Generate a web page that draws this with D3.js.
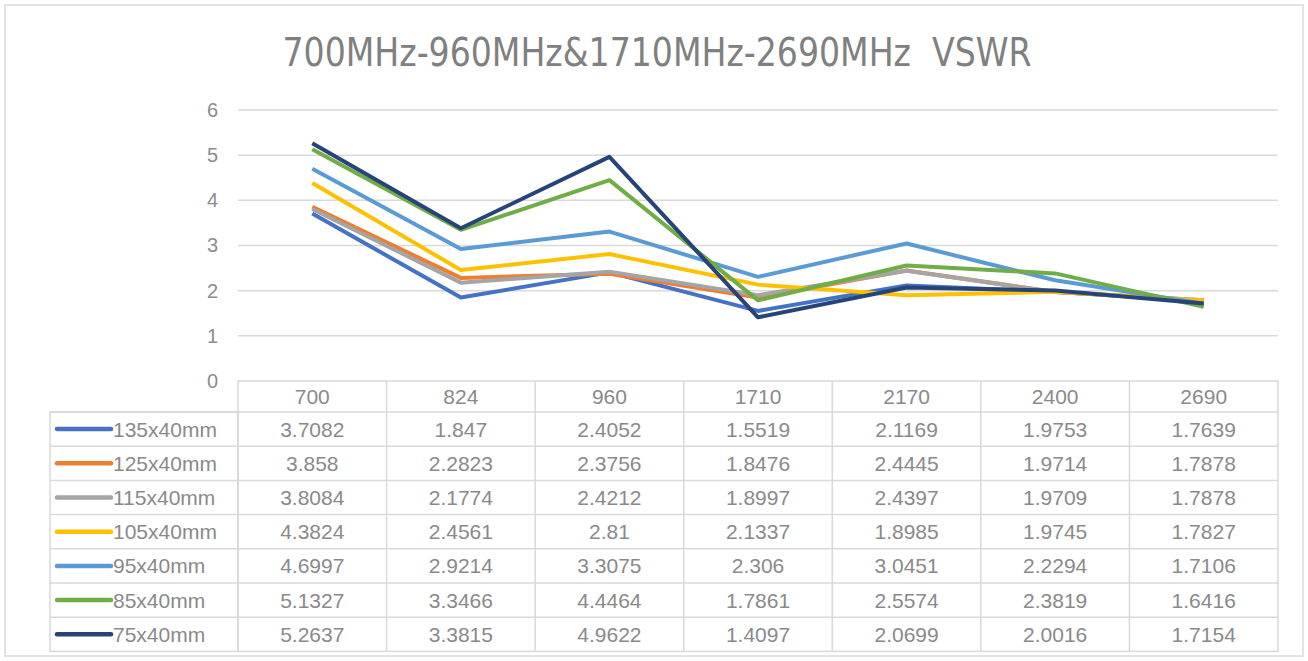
<!DOCTYPE html>
<html>
<head>
<meta charset="utf-8">
<script src="https://cdn.jsdelivr.net/npm/d3@7"></script>
<style>
  body { margin: 0; background: #fff; }
  text { font-family: "Liberation Sans", Arial, sans-serif; }
</style>
</head>
<body>
<div id="chart"></div>
<script>
// Data
var categories = ['700', '824', '960', '1710', '2170', '2400', '2690'];
var seriesNames = ['135x40mm', '125x40mm', '115x40mm', '105x40mm', '95x40mm', '85x40mm', '75x40mm'];
var s135 = [3.7082, 1.847, 2.4052, 1.5519, 2.1169, 1.9753, 1.7639];
var s125 = [3.858, 2.2823, 2.3756, 1.8476, 2.4445, 1.9714, 1.7878];
var s115 = [3.8084, 2.1774, 2.4212, 1.8997, 2.4397, 1.9709, 1.7878];
var s105 = [4.3824, 2.4561, 2.81, 2.1337, 1.8985, 1.9745, 1.7827];
var s95 = [4.6997, 2.9214, 3.3075, 2.306, 3.0451, 2.2294, 1.7106];
var s85 = [5.1327, 3.3466, 4.4464, 1.7861, 2.5574, 2.3819, 1.6416];
var s75 = [5.2637, 3.3815, 4.9622, 1.4097, 2.0699, 2.0016, 1.7154];
var yTicks = [0, 1, 2, 3, 4, 5, 6];
var colors = ['#4472C4', '#ED7D31', '#A5A5A5', '#FFC000', '#5B9BD5', '#70AD47', '#264478'];

var allSeries = [s135, s125, s115, s105, s95, s85, s75];

var width = 1308, height = 661;
var plot = {left: 238, right: 1278, top: 110, bottom: 381};
var headerH = 31, rowH = 34.2, labelLeft = 50;
var textColor = '#8a8a8a';

var svg = d3.select('#chart').append('svg')
    .attr('width', width)
    .attr('height', height);

// outer frame
svg.append('rect')
    .attr('x', 5).attr('y', 5)
    .attr('width', 1298).attr('height', 651)
    .attr('fill', '#fff')
    .attr('stroke', '#e3e3e3')
    .attr('stroke-width', 2);

// title (narrow face, squeezed to the reference width)
svg.append('text')
    .attr('x', 657).attr('y', 66)
    .attr('text-anchor', 'middle')
    .attr('font-size', 39)
    .attr('fill', '#808080')
    .attr('textLength', 749)
    .attr('lengthAdjust', 'spacingAndGlyphs')
    .attr('xml:space', 'preserve')
    .style('font-family', '"Liberation Sans Narrow", "DejaVu Sans Condensed", "Liberation Sans", sans-serif')
    .text('700MHz-960MHz&1710MHz-2690MHz  VSWR');

// Scales
var xScale = d3.scaleBand().domain(categories).range([plot.left, plot.right]);
var yScale = d3.scaleLinear().domain([0, 6]).range([plot.bottom, plot.top]);

// gridlines
svg.append('g').selectAll('line').data(yTicks.filter((d) => d > 0)).enter().append('line')
    .attr('x1', plot.left).attr('x2', plot.right)
    .attr('y1', (d) => yScale(d)).attr('y2', (d) => yScale(d))
    .attr('stroke', '#d9d9d9')
    .attr('stroke-width', 1.5);

// y axis labels
var yAxis = d3.axisLeft(yScale).tickValues(yTicks).tickFormat(d3.format('d')).tickSize(0).tickPadding(0);
var gY = svg.append('g').attr('transform', 'translate(218,0)').call(yAxis);
gY.select('.domain').remove();
gY.selectAll('text')
    .attr('font-size', 20)
    .attr('fill', '#8c8c8c')
    .style('font-family', '"Liberation Sans", Arial, sans-serif');

// lines
var line = d3.line()
    .x((d, i) => xScale(categories[i]) + xScale.bandwidth() / 2)
    .y((d) => yScale(d));

svg.append('g').selectAll('path').data(allSeries).enter().append('path')
    .attr('d', line)
    .attr('fill', 'none')
    .attr('stroke', (d, i) => colors[i])
    .attr('stroke-width', 4)
    .attr('stroke-linejoin', 'round');

// data table
var table = svg.append('g');
var tableTop = plot.bottom;
var rowsTop = tableTop + headerH;
var tableBottom = rowsTop + rowH * seriesNames.length;
var gridColor = '#d9d9d9';

table.append('rect')
    .attr('x', plot.left).attr('y', tableTop)
    .attr('width', plot.right - plot.left).attr('height', tableBottom - tableTop)
    .attr('fill', 'none').attr('stroke', gridColor).attr('stroke-width', 1.5);
table.append('rect')
    .attr('x', labelLeft).attr('y', rowsTop)
    .attr('width', plot.left - labelLeft).attr('height', tableBottom - rowsTop)
    .attr('fill', 'none').attr('stroke', gridColor).attr('stroke-width', 1.5);

// vertical separators
table.selectAll('line.v').data(categories.slice(1)).enter().append('line')
    .attr('class', 'v')
    .attr('x1', (d) => xScale(d)).attr('x2', (d) => xScale(d))
    .attr('y1', tableTop).attr('y2', tableBottom)
    .attr('stroke', gridColor).attr('stroke-width', 1.5);

// horizontal separators
table.selectAll('line.h').data(seriesNames).enter().append('line')
    .attr('class', 'h')
    .attr('x1', labelLeft).attr('x2', plot.right)
    .attr('y1', (d, i) => rowsTop + i * rowH).attr('y2', (d, i) => rowsTop + i * rowH)
    .attr('stroke', gridColor).attr('stroke-width', 1.5);

// header labels
table.selectAll('text.head').data(categories).enter().append('text')
    .attr('class', 'head')
    .attr('x', (d) => xScale(d) + xScale.bandwidth() / 2)
    .attr('y', tableTop + headerH / 2 + 7)
    .attr('text-anchor', 'middle')
    .attr('font-size', 21)
    .attr('fill', textColor)
    .text((d) => d);

// rows
var rows = table.selectAll('g.row').data(allSeries).enter().append('g')
    .attr('class', 'row')
    .attr('transform', (d, i) => `translate(0,${rowsTop + i * rowH})`);

rows.append('line')
    .attr('x1', 57).attr('x2', 111)
    .attr('y1', rowH / 2).attr('y2', rowH / 2)
    .attr('stroke', (d, i) => colors[i])
    .attr('stroke-width', 4.5)
    .attr('stroke-linecap', 'round');

rows.append('text')
    .attr('x', 113)
    .attr('y', rowH / 2 + 7.5)
    .attr('font-size', 21)
    .attr('fill', textColor)
    .text((d, i) => seriesNames[i]);

rows.selectAll('text.val').data((d) => d).enter().append('text')
    .attr('class', 'val')
    .attr('x', (d, i) => xScale(categories[i]) + xScale.bandwidth() / 2)
    .attr('y', rowH / 2 + 7.5)
    .attr('text-anchor', 'middle')
    .attr('font-size', 21)
    .attr('fill', textColor)
    .text((d) => d);
</script>
</body>
</html>
